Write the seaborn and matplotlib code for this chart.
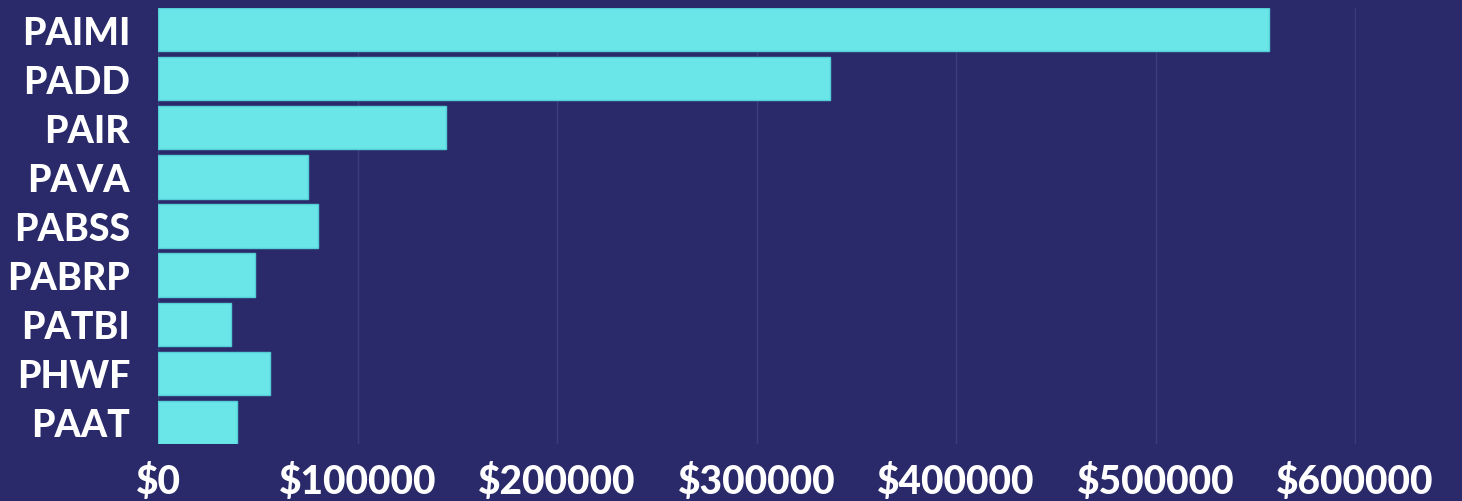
import matplotlib
matplotlib.use("Agg")
import matplotlib.pyplot as plt
import seaborn as sns
import pandas as pd
from matplotlib.ticker import FuncFormatter

# ----------------------------------------------------------
# data
# ----------------------------------------------------------
programs = ["PAIMI", "PADD", "PAIR", "PAVA", "PABSS", "PABRP", "PATBI", "PHWF", "PAAT"]
funding = [557000, 337000, 144500, 75300, 80300, 48700, 36600, 56200, 39600]
xticks = [0, 100000, 200000, 300000, 400000, 500000, 600000]

bg = "#2a2a6b"
bar_color = "#6ae6e9"

sns.set_style("dark")
plt.rcParams["font.family"] = ["Lato", "DejaVu Sans"]

df = pd.DataFrame({"program": programs, "funding": funding})

fig = plt.figure(figsize=(14.62, 5.02), dpi=100, facecolor=bg)
ax = fig.add_axes([158 / 1462, 1 - 445 / 502, 1198 / 1462, 436 / 502])
ax.set_facecolor(bg)

sns.barplot(data=df, x="funding", y="program", orient="h", color=bar_color,
            width=0.88, edgecolor="#55cfd6", linewidth=1, saturation=1, ax=ax, zorder=3)

ax.set_xlim(0, 600500)
ax.set_ylim(len(programs) - 0.56, -0.44)
ax.set_xticks(xticks)
ax.xaxis.set_major_formatter(FuncFormatter(lambda v, p: f"${int(v)}"))
ax.grid(axis="x", color="#3a3c7c", lw=1, zorder=0)
ax.grid(axis="y", visible=False)
for s in ax.spines.values():
    s.set_visible(False)
ax.set_xlabel("")
ax.set_ylabel("")
ax.tick_params(axis="both", length=0, colors="white")
ax.tick_params(axis="y", pad=20)
ax.tick_params(axis="x", pad=13)
for lbl in ax.get_yticklabels():
    lbl.set_fontsize(27)
    lbl.set_fontweight("black")
    lbl.set_color("white")
for lbl in ax.get_xticklabels():
    lbl.set_fontsize(28)
    lbl.set_fontweight("black")
    lbl.set_color("white")

plt.savefig("out.png", dpi=100, facecolor=bg)
